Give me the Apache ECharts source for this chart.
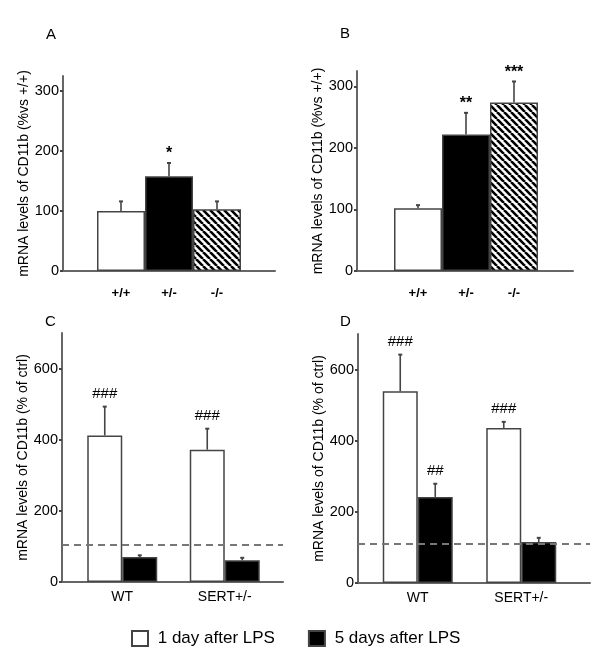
<!DOCTYPE html>
<html><head><meta charset="utf-8">
<script src="https://cdn.jsdelivr.net/npm/echarts@6/dist/echarts.min.js"></script>
<style>html,body{margin:0;padding:0;background:#fff}#c{width:600px;height:656px}</style>
</head><body><div id="c"></div>
<script>
// ---- Data: panels A & B (genotypes) ----
const genotypes = ['+/+', '+/-', '-/-'];
const aMean = [100, 158, 103];
const aSem  = [16, 22, 13];
const aSig  = ['', '*', ''];
const bMean = [102, 222, 274];
const bSem  = [5, 35, 34];
const bSig  = ['', '**', '***'];
// ---- Data: panels C & D (LPS time course) ----
const groups = ['WT', 'SERT+/-'];
const seriesNames = ['1 day after LPS', '5 days after LPS'];
const cDay1 = [412, 372];  const cDay1Sem = [81, 59];  const cDay1Sig = ['###', '###'];
const cDay5 = [70, 61];    const cDay5Sem = [5, 7];    const cDay5Sig = ['', ''];
const cCtrl = 105;
const dDay1 = [539, 436];  const dDay1Sem = [103, 17]; const dDay1Sig = ['###', '###'];
const dDay5 = [242, 115];  const dDay5Sem = [37, 12];  const dDay5Sig = ['##', ''];
const dCtrl = 109;
const nameAB = 'mRNA levels of CD11b (%vs +/+)';
const nameCD = 'mRNA levels of CD11b (% of ctrl)';

const FONT = '"Liberation Sans", Arial, sans-serif';
const AXIS = '#666';
const EDGE = '#444';

function hatch() {
  const s = 7, c = document.createElement('canvas');
  c.width = s; c.height = s;
  const g = c.getContext('2d');
  g.fillStyle = '#fff'; g.fillRect(0, 0, s, s);
  g.strokeStyle = '#000'; g.lineWidth = 2.6;
  g.beginPath();
  for (const o of [-s, 0, s]) { g.moveTo(o, 0); g.lineTo(o + s, s); }
  g.stroke();
  return c;
}
const fills = ['#fff', '#000', { image: hatch(), repeat: 'repeat' }];

const chart = echarts.init(document.getElementById('c'), null, { renderer: 'canvas' });

const grids = [
  { left: 63, width: 212, top: 76, height: 195 },   // 0 A frame
  { left: 97, width: 144, top: 76, height: 195 },   // 1 A bars
  { left: 357, width: 216, top: 71, height: 200 },  // 2 B frame
  { left: 394, width: 144, top: 71, height: 200 },  // 3 B bars
  { left: 62, width: 221, top: 333, height: 249 },  // 4 C frame
  { left: 71, width: 205, top: 333, height: 249 },  // 5 C bars
  { left: 358, width: 232, top: 334, height: 249 }, // 6 D frame
  { left: 366, width: 207, top: 334, height: 249 }  // 7 D bars
];

function frameX(g) {
  return { gridIndex: g, type: 'value', min: 0, max: 1,
    axisLine: { show: true, onZero: false, lineStyle: { color: AXIS, width: 2 } },
    axisTick: { show: false }, axisLabel: { show: false }, splitLine: { show: false } };
}
function frameY(g, max, interval, name, gap) {
  return { gridIndex: g, type: 'value', min: 0, max, interval, name,
    nameLocation: 'middle', nameGap: gap,
    nameTextStyle: { fontSize: 14, color: '#000', fontFamily: FONT },
    axisLine: { show: true, onZero: false, lineStyle: { color: AXIS, width: 2 } },
    axisTick: { show: true, length: 3, lineStyle: { color: EDGE, width: 2 } },
    axisLabel: { fontSize: 14.5, color: '#000', margin: 4, showMaxLabel: false, fontFamily: FONT },
    splitLine: { show: false } };
}
function mainX(g, data, size, weight, margin) {
  return { gridIndex: g, type: 'category', data,
    axisLine: { show: false }, axisTick: { show: false }, splitLine: { show: false },
    axisLabel: { fontSize: size, fontWeight: weight, color: '#000', margin, fontFamily: FONT, interval: 0 } };
}
function mainY(g, max, interval) {
  return { gridIndex: g, type: 'value', min: 0, max, interval, show: false, splitLine: { show: false } };
}

function errSeries(g, mean, sem, sig, offset) {
  return {
    type: 'custom', xAxisIndex: g, yAxisIndex: g, z: 10, silent: true,
    data: mean.map((m, i) => [i, m, m + sem[i]]),
    renderItem(params, api) {
      const base = api.coord([api.value(0), api.value(1)]);
      const top = api.coord([api.value(0), api.value(2)]);
      const x = base[0] + offset;
      const s = sig[params.dataIndex];
      const star = s.charAt(0) === '*';
      return { type: 'group', children: [
        { type: 'line', shape: { x1: x, y1: base[1], x2: x, y2: top[1] }, style: { stroke: EDGE, lineWidth: 1.6 } },
        { type: 'line', shape: { x1: x - 2, y1: top[1], x2: x + 2, y2: top[1] }, style: { stroke: EDGE, lineWidth: 2 } },
        { type: 'text', x: x, y: top[1] - (star ? 9 : 13), style: { text: s, fill: '#000',
          font: (star ? 'bold 16px ' : '15px ') + FONT, align: 'center', verticalAlign: 'middle' } }
      ] };
    }
  };
}

function genoBars(g, mean) {
  return { type: 'bar', xAxisIndex: g, yAxisIndex: g, barCategoryGap: '0%',
    data: mean.map((v, i) => ({ value: v, itemStyle: { color: fills[i] } })),
    itemStyle: { borderColor: EDGE, borderWidth: 1.5 } };
}
const BW = 35;
function lpsBars(g, vals, idx) {
  return { type: 'bar', name: seriesNames[idx], xAxisIndex: g, yAxisIndex: g,
    barWidth: BW, barGap: '0%', data: vals,
    itemStyle: { color: idx === 0 ? '#fff' : '#000', borderColor: EDGE, borderWidth: 1.5 } };
}
function ctrlLine(g, level) {
  return { type: 'line', xAxisIndex: g, yAxisIndex: g, data: [], silent: true,
    markLine: { silent: true, symbol: 'none', label: { show: false },
      lineStyle: { color: '#777', width: 2, type: [7, 5] },
      data: [{ yAxis: level }] } };
}

const option = {
  animation: false,
  textStyle: { fontFamily: FONT },
  title: [
    { text: 'A', left: 41, top: 22 },
    { text: 'B', left: 335, top: 21 },
    { text: 'C', left: 40, top: 309 },
    { text: 'D', left: 335, top: 309 }
  ].map(t => Object.assign(t, { textStyle: { fontSize: 15, fontWeight: 'normal', color: '#000', fontFamily: FONT } })),
  legend: {
    data: seriesNames, left: 126, top: 625, icon: 'rect',
    itemWidth: 16, itemHeight: 15, itemGap: 33,
    formatter: n => ' ' + n,
    textStyle: { fontSize: 17, color: '#000', fontFamily: FONT }
  },
  grid: grids,
  xAxis: [
    frameX(0), mainX(1, genotypes, 13, 'bold', 16),
    frameX(2), mainX(3, genotypes, 13, 'bold', 16),
    frameX(4), mainX(5, groups, 14, 'normal', 8),
    frameX(6), mainX(7, groups, 14, 'normal', 8)
  ],
  yAxis: [
    frameY(0, 325, 100, nameAB, 30), mainY(1, 325, 100),
    frameY(2, 325, 100, nameAB, 30), mainY(3, 325, 100),
    frameY(4, 700, 200, nameCD, 28), mainY(5, 700, 200),
    frameY(6, 700, 200, nameCD, 28), mainY(7, 700, 200)
  ],
  series: [
    genoBars(1, aMean), errSeries(1, aMean, aSem, aSig, 0),
    genoBars(3, bMean), errSeries(3, bMean, bSem, bSig, 0),
    ctrlLine(4, cCtrl),
    lpsBars(5, cDay1, 0), lpsBars(5, cDay5, 1),
    errSeries(5, cDay1, cDay1Sem, cDay1Sig, -BW / 2), errSeries(5, cDay5, cDay5Sem, cDay5Sig, BW / 2),
    ctrlLine(6, dCtrl),
    lpsBars(7, dDay1, 0), lpsBars(7, dDay5, 1),
    errSeries(7, dDay1, dDay1Sem, dDay1Sig, -BW / 2), errSeries(7, dDay5, dDay5Sem, dDay5Sig, BW / 2)
  ]
};
chart.setOption(option);
</script></body></html>
